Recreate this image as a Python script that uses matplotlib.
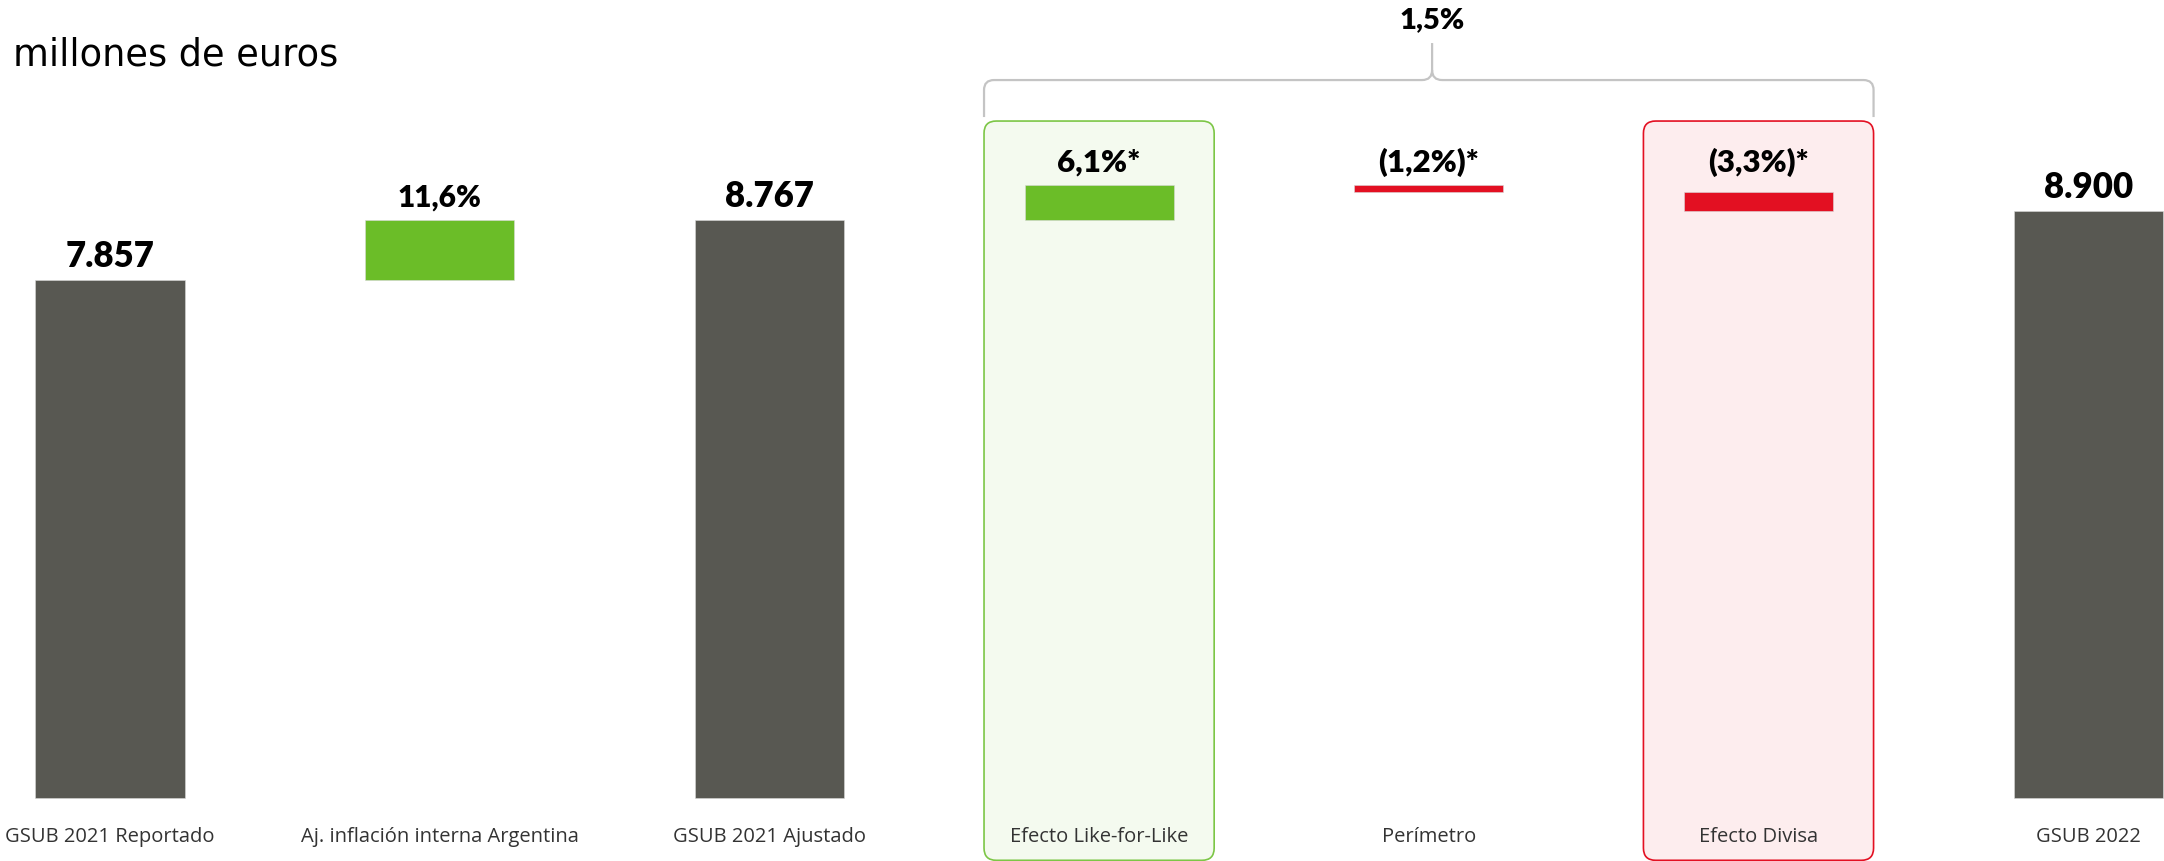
import matplotlib
matplotlib.use('Agg')
import matplotlib.pyplot as plt
from matplotlib.patches import FancyBboxPatch, PathPatch
from matplotlib.path import Path
import numpy as np

# datos (millones de euros)
categories = ['GSUB 2021 Reportado', 'Aj. inflación interna Argentina', 'GSUB 2021 Ajustado',
              'Efecto Like-for-Like', 'Perímetro', 'Efecto Divisa', 'GSUB 2022']
kinds = ['total', 'delta', 'total', 'delta', 'delta', 'delta', 'total']
values = [7857, 910, 8767, 535, -105, -297, 8900]
value_labels = ['7.857', '11,6%', '8.767', '6,1%*', '(1,2%)*', '(3,3%)*', '8.900']
bracket_label = '1,5%'
bracket_group = [3, 4, 5]
boxed = {3: 'green', 5: 'red'}

GREY = '#585852'
GREEN = '#6bbd28'
RED = '#e31022'
box_face = {'green': '#f4faef', 'red': '#fdedee'}
box_edge = {'green': '#7cc646', 'red': '#e31022'}

fig = plt.figure(figsize=(21.64, 8.61), dpi=100)
ax = fig.add_axes([0, 0, 1, 1])
ax.set_xlim(-0.3336, 6.2299)
ax.set_ylim(-955.6, 12104)
ax.axis('off')

# px -> data scale factors
xu = (6.2299 + 0.3336) / 2164.0
yu = (12104 + 955.6) / 861.0

bottoms, tops, colors = [], [], []
level = 0
for k, v in zip(kinds, values):
    if k == 'total':
        level = v
        bottoms.append(0); tops.append(v); colors.append(GREY)
    else:
        lo, hi = sorted([level, level + v])
        bottoms.append(lo); tops.append(hi)
        colors.append(GREEN if v > 0 else RED)
        level += v
bottoms = np.array(bottoms); tops = np.array(tops)
x = np.arange(len(categories))
bw = 0.452

ax.bar(x, tops - bottoms, bottom=bottoms, width=bw, color=colors, zorder=3,
       edgecolor='#d8d8d8', linewidth=0.4)

# cajas redondeadas
box_half = 0.349
box_top = 10268
box_bot = -945
for i, c in boxed.items():
    p = FancyBboxPatch((i - box_half, box_bot), 2 * box_half, box_top - box_bot,
                       boxstyle='round,pad=0,rounding_size=0.037',
                       mutation_aspect=yu / xu,
                       facecolor=box_face[c], edgecolor=box_edge[c], linewidth=1.2, zorder=1)
    ax.add_patch(p)

# etiquetas de valor
lab_off = 13 * yu
group_top = max(tops[i] for i in bracket_group)
for i, lab in enumerate(value_labels):
    if i in bracket_group:
        yb = group_top + lab_off
        fs = 22.5
    elif kinds[i] == 'total':
        yb = tops[i] + lab_off
        fs = 25
    else:
        yb = tops[i] + lab_off
        fs = 21.5
    ax.text(x[i], yb, lab, ha='center', va='baseline', fontsize=fs,
            fontweight='heavy', family='Lato', color='black', zorder=4)

# categorías
for i, c in enumerate(categories):
    ax.text(x[i], -44 * yu, c, ha='center', va='baseline', fontsize=14.5,
            family='Open Sans', color='#333333')

# llave
xl = bracket_group[0] - box_half
xr = bracket_group[-1] + box_half
xc = (bracket_group[0] + bracket_group[-1]) / 2 + 0.01
y0 = box_top + 4 * yu
yh = box_top + 41 * yu
yp = box_top + 78 * yu
rx, ry = 10 * xu, 10 * yu
verts = [(xl, y0), (xl, yh - ry), (xl, yh), (xl + rx, yh), (xc - rx, yh), (xc, yh), (xc, yh + ry),
         (xr, y0), (xr, yh - ry), (xr, yh), (xr - rx, yh), (xc + rx, yh), (xc, yh), (xc, yh + ry),
         (xc, yp)]
codes = [Path.MOVETO, Path.LINETO, Path.CURVE3, Path.CURVE3, Path.LINETO, Path.CURVE3, Path.CURVE3,
         Path.MOVETO, Path.LINETO, Path.CURVE3, Path.CURVE3, Path.LINETO, Path.CURVE3, Path.CURVE3,
         Path.LINETO]
ax.add_patch(PathPatch(Path(verts, codes), facecolor='none', edgecolor='#c4c4c4', linewidth=1.6, zorder=2))
ax.text(xc, yp + 15 * yu, bracket_label, ha='center', va='baseline', fontsize=21,
        fontweight='heavy', family='Lato', color='black')

fig.text(13 / 2164, 1 - 66 / 861, 'millones de euros', ha='left', va='baseline',
         fontsize=26.5, family='DejaVu Sans', color='black')

fig.savefig('out.png', dpi=100)
plt.close(fig)
